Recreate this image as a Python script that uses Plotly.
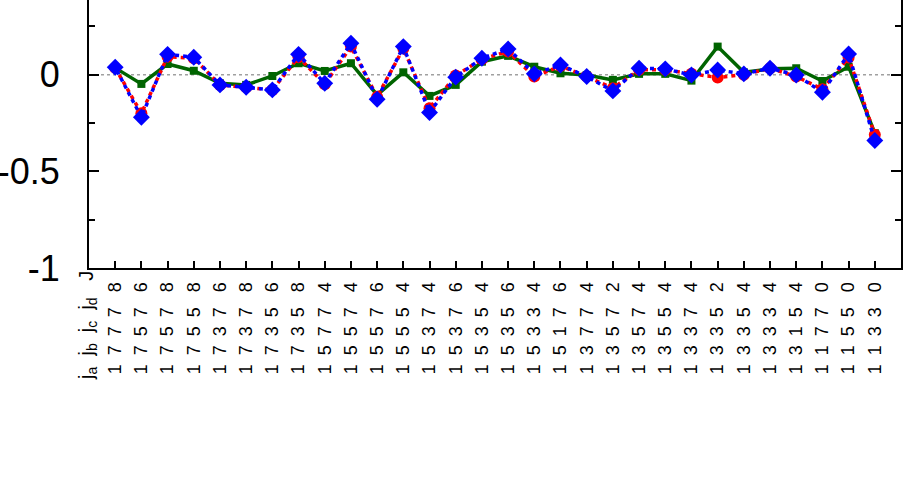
import plotly.graph_objects as go

# category labels: j_a j_b j_c j_d J
ja = [1]*30
jb = [7,7,7,7,7,7,7,7,5,5,5,5,5,5,5,5,5,5,3,3,3,3,3,3,3,3,3,1,1,1]
jc = [7,5,5,5,3,3,3,3,7,5,5,5,3,3,3,3,3,1,7,5,5,5,3,3,3,3,1,7,5,3]
jd = [7,7,7,5,7,7,5,5,7,7,7,5,7,7,5,5,3,7,7,7,7,5,7,5,5,3,5,7,5,3]
J  = [8,6,8,8,6,8,6,8,4,4,6,4,4,6,4,6,4,6,4,2,4,4,4,2,4,4,4,0,0,0]

red_vals = [0.035,-0.20,0.093,0.085,-0.053,-0.065,-0.079,0.09,-0.05,0.145,
            -0.115,0.135,-0.174,-0.005,0.08,0.12,-0.01,0.045,-0.01,-0.07,
            0.025,0.025,0.004,-0.015,0.0,0.033,-0.01,-0.075,0.088,-0.311]
blue_vals = [0.038,-0.22,0.105,0.09,-0.053,-0.065,-0.079,0.105,-0.045,0.162,
             -0.127,0.145,-0.196,-0.013,0.085,0.133,0.004,0.05,-0.01,-0.084,
             0.033,0.03,-0.002,0.024,0.004,0.033,-0.002,-0.091,0.107,-0.341]
green_vals = [0.035,-0.048,0.055,0.02,-0.045,-0.053,-0.007,0.059,0.019,0.059,
              -0.105,0.012,-0.11,-0.053,0.067,0.097,0.041,0.007,-0.002,-0.027,
              0.004,0.004,-0.031,0.145,0.012,0.03,0.033,-0.033,0.041,-0.303]

x = list(range(1, 31))
sep = "\u2002"
jsep = "\u00a0\u00a0\u00a0"
ticktext = [f"{a}{sep}{b}{sep}{c}{sep}{d}{jsep}{j}" for a, b, c, d, j in zip(ja, jb, jc, jd, J)]

FONT = "Liberation Sans, Arial, sans-serif"

fig = go.Figure()
fig.add_trace(go.Scatter(x=x, y=green_vals, mode="lines+markers",
                         line=dict(color="#006400", width=3.5),
                         marker=dict(symbol="square", size=8, color="#006400"),
                         showlegend=False))
fig.add_trace(go.Scatter(x=x, y=red_vals, mode="lines+markers",
                         line=dict(color="#ff0000", width=3.5, dash="4px,4px"),
                         marker=dict(symbol="circle", size=12, color="#ff0000"),
                         showlegend=False))
fig.add_trace(go.Scatter(x=x, y=blue_vals, mode="lines+markers",
                         line=dict(color="#0000ff", width=3.5, dash="0px,4px,4px,0px"),
                         marker=dict(symbol="diamond", size=13, color="#0000ff"),
                         showlegend=False))

fig.add_shape(type="line", xref="paper", x0=0, x1=1, yref="y", y0=0, y1=0,
              line=dict(color="#a0a0a0", width=1.5, dash="dot"), layer="below")

fig.add_annotation(text="j<sub>a</sub>\u00a0\u00a0j<sub>b</sub>\u00a0\u00a0j<sub>c</sub>\u00a0\u00a0j<sub>d</sub>\u00a0\u00a0\u00a0J",
                   xref="paper", yref="paper", x=-0.002, y=0, xanchor="center", yanchor="top",
                   yshift=-1, textangle=-90, showarrow=False,
                   font=dict(family=FONT, size=20, color="black"))

fig.update_layout(
    width=903, height=486,
    margin=dict(l=89, r=2, t=0, b=218, autoexpand=False),
    paper_bgcolor="white", plot_bgcolor="white",
    font=dict(family=FONT, color="black"),
    xaxis=dict(range=[0, 31], tickvals=x, ticktext=ticktext, tickangle=-90,
               ticks="inside", ticklen=7, tickwidth=1.5, tickcolor="black",
               showline=True, linecolor="black", linewidth=2, showgrid=False,
               zeroline=False, tickfont=dict(size=18, family=FONT),
               ticklabelstandoff=5, automargin=False),
    yaxis=dict(range=[-1, 0.386], tickvals=[-1, -0.5, 0], ticktext=["-1", "-0.5", "0"],
               ticks="inside", ticklen=10, tickwidth=1.5, tickcolor="black",
               minor=dict(dtick=0.25, ticks="inside", ticklen=6, tickwidth=1.5, tickcolor="black"),
               showline=True, mirror="ticks", linecolor="black", linewidth=2,
               showgrid=False, zeroline=False, tickfont=dict(size=36, family=FONT),
               ticklabelstandoff=20, automargin=False),
)

fig.write_html("out.html", config={"displayModeBar": False},
               post_script="document.body.style.margin='0';document.body.style.padding='0';")
